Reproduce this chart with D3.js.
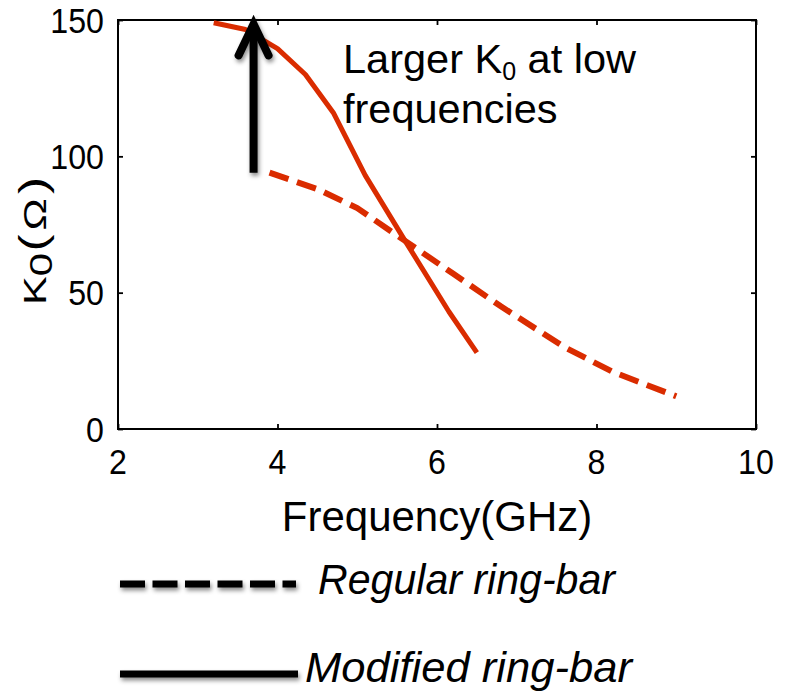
<!DOCTYPE html>
<html>
<head>
<meta charset="utf-8">
<script src="https://cdn.jsdelivr.net/npm/d3@7/dist/d3.min.js"></script>
<style>
  html, body { margin: 0; padding: 0; background: #fff; }
  svg { display: block; font-family: "Liberation Sans", Arial, sans-serif; }
</style>
</head>
<body>
<svg id="chart" width="786" height="691"></svg>
<script>
// K0 versus frequency for the two ring-bar designs
const regularFreq = [3.9, 4.5, 5.0, 5.6, 6.2, 6.8, 7.6, 8.2, 9.0];
const regularK0   = [94, 88, 81, 69, 57, 45, 30, 21, 12];

const modifiedFreq = [3.2, 3.6, 4.0, 4.35, 4.7, 5.1, 5.6, 6.15, 6.5];
const modifiedK0   = [149, 146.5, 139.5, 130, 116, 93, 69, 43, 28];

const xTicks = [2, 4, 6, 8, 10];
const yTicks = [0, 50, 100, 150];

const seriesNames = ["Regular ring-bar", "Modified ring-bar"];
const annotationLines = ["Larger K", "0", " at low", "frequencies"];

const lineColor = "#da2c00";

const svg = d3.select("#chart");

const plot = { left: 118, right: 756, top: 20, bottom: 429 };

const x = d3.scaleLinear().domain([2, 10]).range([plot.left, plot.right]);
const y = d3.scaleLinear().domain([0, 150]).range([plot.bottom, plot.top]);

// soft shadow used by the arrow and legend samples
const defs = svg.append("defs");
const shadow = defs.append("filter").attr("id", "shadow")
  .attr("filterUnits", "userSpaceOnUse")
  .attr("x", 0).attr("y", 0).attr("width", 786).attr("height", 691);
shadow.append("feDropShadow")
  .attr("dx", 1.5).attr("dy", 3).attr("stdDeviation", 2)
  .attr("flood-color", "#000").attr("flood-opacity", 0.45);

// frame
svg.append("rect")
  .attr("x", plot.left).attr("y", plot.top)
  .attr("width", plot.right - plot.left).attr("height", plot.bottom - plot.top)
  .attr("fill", "none").attr("stroke", "#000").attr("stroke-width", 2);

// inward ticks on all four sides
const tickLen = 5;
const axisStyle = g => {
  g.select(".domain").remove();
  g.selectAll(".tick line").attr("stroke", "#000").attr("stroke-width", 1.8);
};
svg.append("g").attr("transform", `translate(0,${plot.bottom})`)
  .call(d3.axisBottom(x).tickValues(xTicks).tickSize(-tickLen).tickFormat(""))
  .call(axisStyle);
svg.append("g").attr("transform", `translate(0,${plot.top})`)
  .call(d3.axisTop(x).tickValues(xTicks).tickSize(-tickLen).tickFormat(""))
  .call(axisStyle);
svg.append("g").attr("transform", `translate(${plot.left},0)`)
  .call(d3.axisLeft(y).tickValues(yTicks).tickSize(-tickLen).tickFormat(""))
  .call(axisStyle);
svg.append("g").attr("transform", `translate(${plot.right},0)`)
  .call(d3.axisRight(y).tickValues(yTicks).tickSize(-tickLen).tickFormat(""))
  .call(axisStyle);

// tick labels
svg.append("g").selectAll("text").data(xTicks).join("text")
  .attr("x", d => x(d)).attr("y", 474)
  .attr("text-anchor", "middle").attr("font-size", 35)
  .attr("transform", d => `translate(${x(d) * 0.08},0) scale(0.92,1)`)
  .text(d => d);
svg.append("g").selectAll("text").data(yTicks).join("text")
  .attr("x", 104 / 0.92).attr("y", d => y(d)).attr("dy", "0.36em")
  .attr("text-anchor", "end").attr("font-size", 35)
  .attr("transform", "scale(0.92,1)")
  .text(d => d);

// axis titles
svg.append("text")
  .attr("x", x(6)).attr("y", 531)
  .attr("text-anchor", "middle").attr("font-size", 42)
  .text("Frequency(GHz)");

const yTitle = svg.append("text")
  .attr("transform", "translate(46,305) rotate(-90) scale(1.35,1)")
  .attr("font-size", 32);
yTitle.append("tspan").text("K");
yTitle.append("tspan").attr("font-size", 31).attr("dy", 6).text("0");
yTitle.append("tspan").attr("font-size", 38).attr("dy", -6).attr("dx", 1).text("(");
yTitle.append("tspan").attr("font-size", 32).attr("dx", 3).text("Ω");
yTitle.append("tspan").attr("font-size", 38).attr("dx", 3).text(")");

// data lines
const line = d3.line().x(d => x(d[0])).y(d => y(d[1]));
const regular = regularFreq.map((f, i) => [f, regularK0[i]]);
const modified = modifiedFreq.map((f, i) => [f, modifiedK0[i]]);

svg.append("path").datum(regular)
  .attr("d", line).attr("fill", "none")
  .attr("stroke", lineColor).attr("stroke-width", 6)
  .attr("stroke-dasharray", "20,9");
svg.append("path").datum(modified)
  .attr("d", line).attr("fill", "none")
  .attr("stroke", lineColor).attr("stroke-width", 5)
  .attr("stroke-linejoin", "round");

// annotation arrow pointing to the low-frequency peak
const arrowX = x(3.7);
const arrow = svg.append("g").attr("filter", "url(#shadow)")
  .attr("stroke", "#000").attr("fill", "none");
arrow.append("line")
  .attr("x1", arrowX).attr("x2", arrowX)
  .attr("y1", y(94)).attr("y2", y(147))
  .attr("stroke-width", 8);
arrow.append("path")
  .attr("d", `M${arrowX - 15},${y(137)} L${arrowX},${y(148.5)} L${arrowX + 15},${y(137)}`)
  .attr("stroke-width", 8).attr("stroke-linecap", "round").attr("stroke-linejoin", "miter");

// annotation text
const note = svg.append("text").attr("x", 343).attr("y", 73).attr("font-size", 41.5);
note.append("tspan").text(annotationLines[0]);
note.append("tspan").attr("font-size", 25).attr("dy", 7).text(annotationLines[1]);
note.append("tspan").attr("dy", -7).text(annotationLines[2]);
svg.append("text").attr("x", 343).attr("y", 123).attr("font-size", 41.5)
  .text(annotationLines[3]);

// legend
const legend = svg.append("g");
legend.append("line").attr("filter", "url(#shadow)")
  .attr("x1", 120).attr("x2", 296).attr("y1", 584).attr("y2", 584)
  .attr("stroke", "#000").attr("stroke-width", 7).attr("stroke-dasharray", "25,7.5");
legend.append("text").attr("x", 318).attr("y", 594)
  .attr("font-size", 42).attr("font-style", "italic")
  .attr("textLength", 297).attr("lengthAdjust", "spacingAndGlyphs")
  .text(seriesNames[0]);
legend.append("line").attr("filter", "url(#shadow)")
  .attr("x1", 120).attr("x2", 298).attr("y1", 674).attr("y2", 674)
  .attr("stroke", "#000").attr("stroke-width", 7);
legend.append("text").attr("x", 305).attr("y", 682)
  .attr("font-size", 42).attr("font-style", "italic")
  .attr("textLength", 327).attr("lengthAdjust", "spacingAndGlyphs")
  .text(seriesNames[1]);
</script>
</body>
</html>
